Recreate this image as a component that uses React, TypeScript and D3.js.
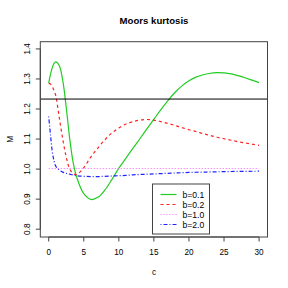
import React from "react";
import * as d3 from "d3";

const cValues = [0, 0.25, 0.5, 0.75, 1, 1.5, 2, 2.5, 3, 3.5, 4, 5, 6, 7, 8, 9, 10, 11, 12, 13, 14, 15, 16, 17, 18, 19, 20, 21, 22, 23, 24, 25, 26, 27, 28, 29, 30];

const mB01 = [1.286, 1.315, 1.337, 1.352, 1.357, 1.345, 1.295, 1.205, 1.10, 1.02, 0.972, 0.918, 0.899, 0.906, 0.93, 0.965, 1.003, 1.036, 1.069, 1.101, 1.134, 1.166, 1.198, 1.228, 1.255, 1.277, 1.294, 1.306, 1.314, 1.319, 1.321, 1.320, 1.317, 1.311, 1.304, 1.296, 1.288];
const mB02 = [1.285, 1.283, 1.275, 1.262, 1.245, 1.172, 1.10, 1.04, 1.0, 0.985, 0.982, 1.005, 1.04, 1.07, 1.097, 1.12, 1.137, 1.15, 1.158, 1.163, 1.165, 1.163, 1.158, 1.152, 1.145, 1.138, 1.131, 1.125, 1.118, 1.112, 1.106, 1.101, 1.096, 1.091, 1.087, 1.083, 1.079];
const mB10 = [1.002, 1.002, 1.002, 1.002, 1.002, 1.002, 1.002, 1.002, 1.002, 1.002, 1.002, 1.002, 1.002, 1.002, 1.002, 1.002, 1.002, 1.002, 1.002, 1.002, 1.002, 1.002, 1.002, 1.002, 1.002, 1.002, 1.002, 1.002, 1.002, 1.002, 1.002, 1.002, 1.002, 1.002, 1.002, 1.002, 1.002];
const mB20 = [1.175, 1.115, 1.06, 1.028, 1.01, 0.997, 0.99, 0.986, 0.983, 0.98, 0.978, 0.976, 0.975, 0.975, 0.976, 0.977, 0.978, 0.979, 0.981, 0.982, 0.983, 0.984, 0.985, 0.986, 0.987, 0.988, 0.989, 0.9895, 0.99, 0.9905, 0.991, 0.9915, 0.992, 0.9922, 0.9925, 0.9928, 0.993];

const seriesLabels = ["b=0.1", "b=0.2", "b=1.0", "b=2.0"];
const seriesColors = ["#22cc22", "#ff2222", "#ff66ff", "#2222ff"];
const seriesDash = ["none", "3,3", "1,2", "1,2,4,2"];
const seriesValues = [mB01, mB02, mB10, mB20];

const xTicks = [0, 5, 10, 15, 20, 25, 30];
const yTicks = [0.8, 0.9, 1.0, 1.1, 1.2, 1.3, 1.4];
const refLine = 1.2331;

export default function App() {
  const left = 40.3, right = 267.5, top = 41.7, bottom = 237;
  const x = d3.scaleLinear().domain([-1.2, 31.2]).range([left, right]);
  const y = d3.scaleLinear().domain([0.774, 1.424]).range([bottom, top]);
  const line = d3
    .line<number>()
    .x((_, i) => x(cValues[i]))
    .y((d) => y(d))
    .curve(d3.curveCatmullRom.alpha(0.5));
  const font = "Liberation Sans, Arial, Helvetica, sans-serif";
  const legX = 152.5, legY = 184, legW = 57, legH = 50;
  return (
    <svg width={288} height={288} style={{ position: "absolute", left: 0, top: 0, background: "#fff" }} fontFamily={font}>
      <text x={154} y={24} textAnchor="middle" fontWeight="bold" fontSize={9.6} fill="#000">Moors kurtosis</text>
      {seriesValues.map((vals, i) => (
        <path key={i} d={line(vals) || ""} fill="none" stroke={seriesColors[i]} strokeWidth={1.2} strokeDasharray={seriesDash[i]} />
      ))}
      <line x1={left} x2={right} y1={y(refLine)} y2={y(refLine)} stroke="#000" strokeWidth={1} />
      <rect x={left} y={top} width={right - left} height={bottom - top} fill="none" stroke="#444" strokeWidth={1} />
      {/* x axis */}
      <line x1={x(0)} x2={x(30)} y1={bottom} y2={bottom} stroke="#444" />
      {xTicks.map((t) => (
        <g key={t}>
          <line x1={x(t)} x2={x(t)} y1={bottom} y2={bottom + 4.5} stroke="#444" />
          <text x={x(t)} y={bottom + 18} textAnchor="middle" fontSize={8.2} fill="#000">{t}</text>
        </g>
      ))}
      <text x={154} y={275} textAnchor="middle" fontSize={8.2} fill="#000">c</text>
      {/* y axis */}
      <line x1={left} x2={left} y1={y(0.8)} y2={y(1.4)} stroke="#444" />
      {yTicks.map((t) => (
        <g key={t}>
          <line x1={left} x2={left - 4.5} y1={y(t)} y2={y(t)} stroke="#444" />
          <text transform={`translate(${left - 10},${y(t)}) rotate(-90)`} textAnchor="middle" fontSize={8.2} fill="#000">{t.toFixed(1)}</text>
        </g>
      ))}
      <text transform={`translate(13,${(top + bottom) / 2}) rotate(-90)`} textAnchor="middle" fontSize={8.2} fill="#000">M</text>
      {/* legend */}
      <rect x={legX} y={legY} width={legW} height={legH} fill="#fff" stroke="#444" strokeWidth={1} />
      {seriesLabels.map((lab, i) => {
        const yy = legY + 10.5 + i * 10;
        return (
          <g key={lab}>
            <line x1={legX + 8} x2={legX + 24} y1={yy} y2={yy} stroke={seriesColors[i]} strokeWidth={1.2} strokeDasharray={seriesDash[i]} />
            <text x={legX + 30} y={yy + 3} fontSize={8.6} fill="#000">{lab}</text>
          </g>
        );
      })}
    </svg>
  );
}
